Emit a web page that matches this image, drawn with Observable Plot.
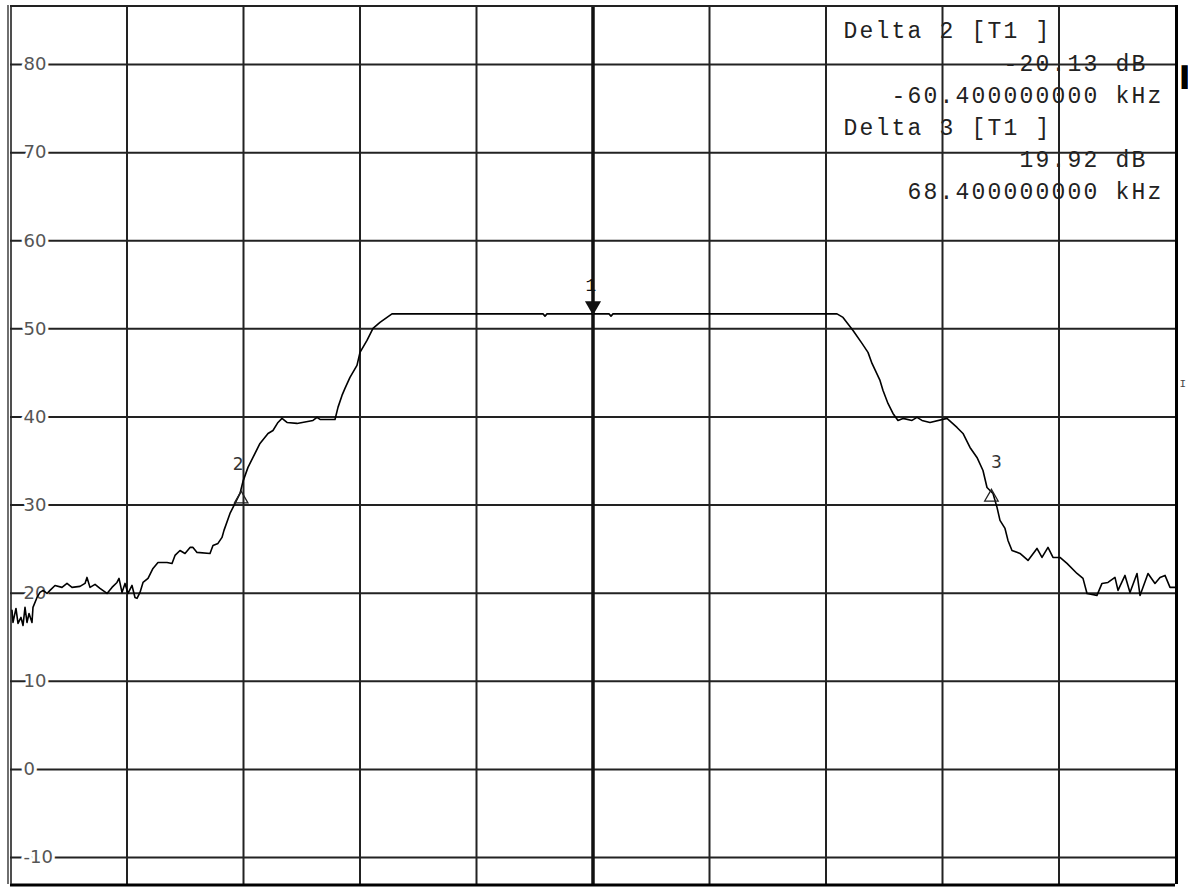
<!DOCTYPE html>
<html><head><meta charset="utf-8">
<script src="https://cdn.jsdelivr.net/npm/d3@7"></script>
<script src="https://cdn.jsdelivr.net/npm/@observablehq/plot@0.6"></script>
<style>body{margin:0;background:#fff}</style>
</head><body><div id="chart"></div>
<script>
// Frequency offset from centre (kHz) and level (dB) of the trace
const freqKHz = [-99.74, -99.57, -99.06, -98.71, -98.20, -97.85, -97.51, -97.17, -96.82, -96.31, -96.14, -95.45, -94.94, -94.42, -93.73, -93.22, -92.36, -91.16, -90.30, -89.44, -88.07, -87.21, -86.87, -86.35, -85.49, -84.64, -83.43, -82.58, -81.72, -81.37, -80.86, -80.34, -79.83, -79.14, -78.63, -78.28, -77.77, -77.25, -76.39, -75.54, -74.68, -73.13, -72.27, -71.76, -70.90, -70.04, -69.18, -68.67, -67.98, -65.75, -65.24, -64.38, -63.69, -63.35, -62.32, -61.46, -60.60, -60.09, -59.23, -58.37, -57.17, -55.79, -54.94, -54.08, -53.39, -52.53, -50.82, -48.07, -47.38, -46.87, -44.29, -43.78, -43.09, -42.58, -41.72, -40.52, -40.00, -38.80, -37.77, -36.57, -35.36, -34.51, -8.58, -8.24, -7.90, 2.75, 3.09, 3.43, 41.89,
  42.92, 44.64, 46.18, 47.21, 47.90, 49.27, 49.79, 50.64, 51.50, 52.36, 53.22, 54.76, 55.62, 56.48, 57.85, 60.77, 62.49, 63.52, 64.72, 65.92, 66.95, 67.64, 68.67, 69.36, 69.87, 70.73, 71.24, 71.93, 73.30, 74.68, 76.22, 77.08, 78.11, 78.97, 80.17, 81.37, 83.09, 84.12, 84.81, 86.52, 87.38, 88.41, 89.61, 90.13, 91.33, 92.19, 93.39, 93.91, 95.28, 96.48, 97.34, 98.20, 99.06, 99.91];
const levelDB = [18.05, 16.68, 18.27, 16.57, 17.25, 16.34, 18.39, 16.68, 17.70, 16.68, 18.39, 19.52, 20.09, 20.32, 19.97, 20.32, 20.88, 20.66, 21.11, 20.66, 20.77, 21.11, 21.79, 20.66, 21.00, 20.54, 19.97, 20.66, 21.22, 21.68, 20.09, 21.11, 19.97, 20.88, 19.52, 19.41, 20.09, 21.22, 21.68, 22.81, 23.49, 23.49, 23.38, 24.29, 24.85, 24.51, 25.20, 25.20, 24.63, 24.51, 25.42, 25.65, 26.33, 27.13, 29.05, 30.19, 31.32, 32.69, 34.28, 35.41, 37.00, 38.13, 38.47, 39.38, 39.84, 39.38, 39.27, 39.61, 39.95, 39.72, 39.72, 41.09, 42.45, 43.24, 44.49, 45.85, 47.33, 48.69, 50.05, 50.73, 51.30, 51.70, 51.70, 51.45, 51.70, 51.70, 51.45, 51.70, 51.70,
  51.30, 49.82, 48.35, 47.33, 46.08, 44.15, 43.01, 41.54, 40.40, 39.61, 39.84, 39.61, 39.95, 39.61, 39.38, 39.84, 38.81, 38.13, 36.54, 35.41, 33.93, 32.00, 31.32, 29.74, 28.26, 27.35, 25.99, 24.85, 24.51, 23.72, 25.08, 24.06, 25.20, 24.06, 24.06, 23.38, 22.24, 21.68, 19.97, 19.75, 21.11, 21.22, 21.79, 20.32, 22.02, 20.09, 22.24, 19.75, 22.24, 21.11, 21.79, 22.02, 20.66, 20.66];

const xDomain = [-100, 100];
const yDomain = [-13.06, 86.7];
const gridX = [-80, -60, -40, -20, 20, 40, 60, 80];
const centerX = [0];
const gridY = [80, 70, 60, 50, 40, 30, 20, 10, 0, -10];
const yTickLabels = ["80", "70", "60", "50", "40", "30", "20", "10", "0", "-10"];

const markerIds = ["1", "2", "3"];
const markerFreq = [0, -60.4, 68.4];
const markerLevel = [52.6, 30.7, 30.9];

const readout = ["Delta 2 [T1 ]", "          -20.13 dB", "   -60.400000000 kHz", "Delta 3 [T1 ]", "           19.92 dB", "    68.400000000 kHz"];

const trace = freqKHz.map((f, i) => ({f, db: levelDB[i]}));
const markers = markerIds.map((id, i) => ({id, f: markerFreq[i], db: markerLevel[i]}));
const readoutText = readout.map(s => s.replace(/ /g, "\u00A0")).join("\n");

const plot = Plot.plot({
  width: 1188, height: 887,
  marginLeft: 10, marginRight: 13, marginTop: 5, marginBottom: 3,
  x: {domain: xDomain, axis: null},
  y: {domain: yDomain, axis: null},
  style: {background: "white", fontFamily: "DejaVu Sans", overflow: "visible"},
  marks: [
    Plot.ruleY(gridY, {stroke: "#222", strokeWidth: 2}),
    Plot.ruleX(gridX, {stroke: "#222", strokeWidth: 2}),
    Plot.ruleX(centerX, {stroke: "#111", strokeWidth: 3.5}),
    // frame borders
    Plot.ruleY([yDomain[1]], {stroke: "#222", strokeWidth: 2, dy: 0.5}),
    Plot.ruleY([yDomain[0]], {stroke: "#000", strokeWidth: 3, dy: 0.5}),
    Plot.ruleX([xDomain[0]], {stroke: "#333", strokeWidth: 1.4, dx: -2.5}),
    Plot.ruleX([xDomain[0]], {stroke: "#222", strokeWidth: 1.6, dx: 0.5}),
    Plot.ruleX([xDomain[1]], {stroke: "#000", strokeWidth: 3, dx: 1}),
    // y labels inside the frame
    Plot.text(gridY, {y: d => d, text: (d, i) => yTickLabels[i], frameAnchor: "left", dx: 13, textAnchor: "start",
      fontSize: 18, fill: "#555", stroke: "white", strokeWidth: 6, paintOrder: "stroke"}),
    // trace
    Plot.line(trace, {x: "f", y: "db", stroke: "#000", strokeWidth: 1.6}),
    // markers
    Plot.dot(markers.filter(m => m.id !== "1"), {x: "f", y: "db", symbol: "triangle", r: 5, stroke: "#222", strokeWidth: 1.3, fill: "none"}),
    Plot.dot(markers.filter(m => m.id === "1"), {x: "f", y: "db", symbol: "triangle", r: 6, fill: "#111", rotate: 180}),
    Plot.text(markers.filter(m => m.id === "2"), {x: "f", y: "db", text: "id", dx: -3, dy: -34, fontSize: 17, fill: "#333"}),
    Plot.text(markers.filter(m => m.id === "3"), {x: "f", y: "db", text: "id", dx: 5, dy: -35, fontSize: 17, fill: "#333"}),
    Plot.text(markers.filter(m => m.id === "1"), {x: "f", y: "db", text: "id", dx: -1, dy: -21, fontSize: 18, fontFamily: "Liberation Mono", fill: "#111"}),
    // readout
    Plot.text([readoutText], {frameAnchor: "top-left", dx: 833, dy: 10, text: d => d, textAnchor: "start", lineAnchor: "top",
      lineHeight: 32.2 / 23, fontSize: 23, fontFamily: "Liberation Mono", fill: "#222"}),
    // glyphs at the right edge
    Plot.text(["\u2590"], {frameAnchor: "top-right", dx: 12, dy: 64, text: d => d, textAnchor: "end", lineAnchor: "top",
      fontSize: 20, fontFamily: "DejaVu Sans Mono", fill: "#000"}),
    Plot.text(["I"], {frameAnchor: "top-right", dx: 4, dy: 374, text: d => d, textAnchor: "start", lineAnchor: "top",
      fontSize: 11, fontFamily: "Liberation Mono", fill: "#444"})
  ]
});
d3.select(plot).selectAll('g[font-family="Liberation Mono"] text').attr("letter-spacing", 2.2);
document.getElementById("chart").appendChild(plot);
</script>
</body></html>
